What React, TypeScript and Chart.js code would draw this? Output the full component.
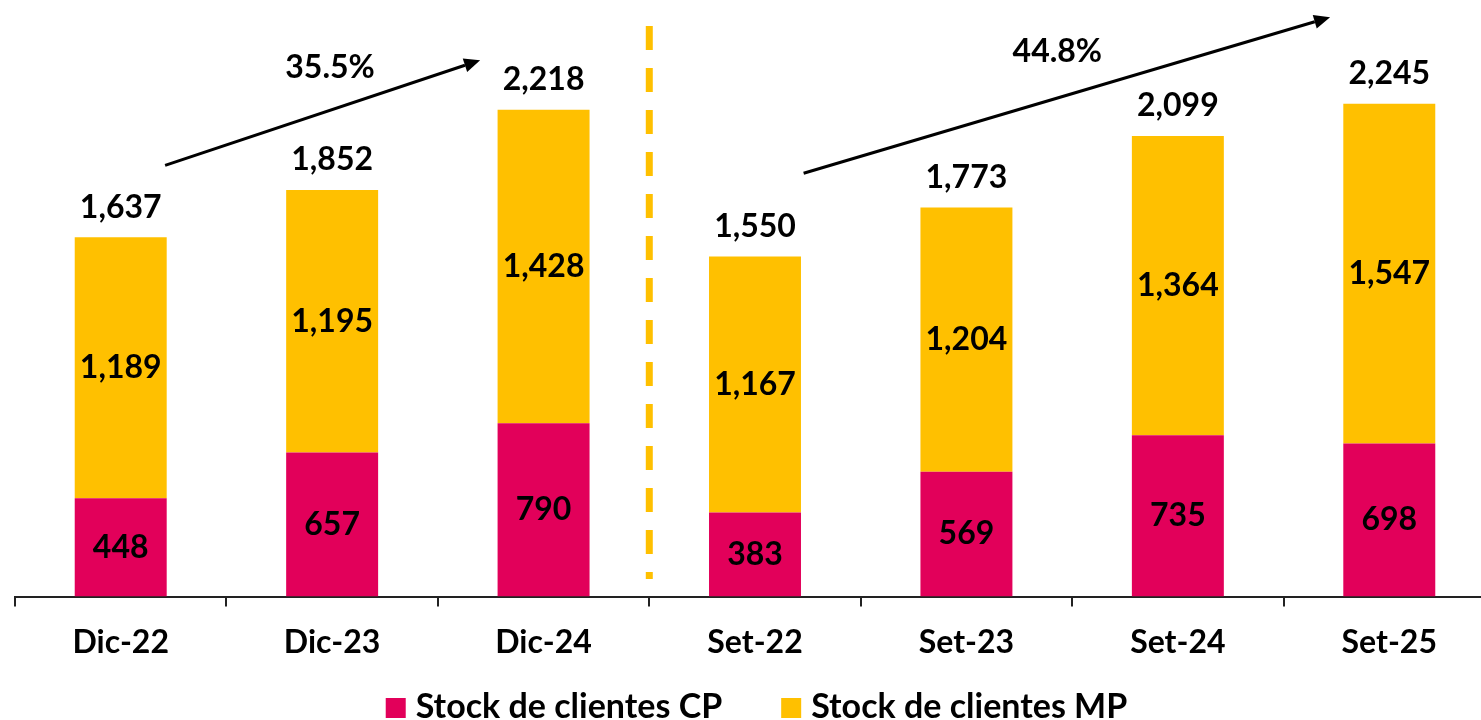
import React, { useEffect, useRef } from "react";
import { Chart, registerables } from "chart.js";

Chart.register(...registerables);

const categories = ["Dic-22", "Dic-23", "Dic-24", "Set-22", "Set-23", "Set-24", "Set-25"];
const stockCP = [448, 657, 790, 383, 569, 735, 698];
const stockMP = [1189, 1195, 1428, 1167, 1204, 1364, 1547];
const seriesNames = ["Stock de clientes CP", "Stock de clientes MP"];
const growthLabels = ["35.5%", "44.8%"];

const CP_COLOR = "#E2005A";
const MP_COLOR = "#FFC000";
const FONT_FAMILY = "Lato";
const LABEL_FONT = `bold 32px ${FONT_FAMILY}`;
const LEGEND_FONT = `bold 34px ${FONT_FAMILY}`;

// annotation anchors in data coordinates (category index, value)
const arrows = [
  { from: [0.21, 1965], to: [1.7, 2444], label: growthLabels[0], at: [0.99, 2408] },
  { from: [3.23, 1929], to: [5.72, 2640], label: growthLabels[1], at: [4.43, 2481] },
];

const fmt = (v: number) => v.toLocaleString("en-US");

const overlayPlugin = {
  id: "overlay",
  afterDatasetsDraw(chart: any) {
    const { ctx } = chart;
    const xs = chart.scales.x;
    const ys = chart.scales.y;
    ctx.save();
    ctx.font = LABEL_FONT;
    ctx.fillStyle = "#000";
    ctx.textAlign = "center";
    ctx.textBaseline = "middle";
    // segment labels
    chart.data.datasets.forEach((ds: any, di: number) => {
      const meta = chart.getDatasetMeta(di);
      meta.data.forEach((el: any, i: number) => {
        const y = (el.y + el.base) / 2;
        ctx.fillText(fmt(ds.data[i]), el.x, y);
      });
    });
    // totals
    const topMeta = chart.getDatasetMeta(1);
    topMeta.data.forEach((el: any, i: number) => {
      const total = stockCP[i] + stockMP[i];
      ctx.fillText(fmt(total), el.x, el.y - 30);
    });
    // dashed separator
    const sepX = (xs.getPixelForValue(2) + xs.getPixelForValue(3)) / 2;
    ctx.strokeStyle = MP_COLOR;
    ctx.lineWidth = 7;
    ctx.setLineDash([24, 18]);
    ctx.beginPath();
    ctx.moveTo(sepX, ys.getPixelForValue(2600));
    ctx.lineTo(sepX, ys.getPixelForValue(80));
    ctx.stroke();
    ctx.setLineDash([]);
    // arrows
    arrows.forEach((a) => {
      const x1 = xs.getPixelForValue(a.from[0]);
      const y1 = ys.getPixelForValue(a.from[1]);
      const x2 = xs.getPixelForValue(a.to[0]);
      const y2 = ys.getPixelForValue(a.to[1]);
      const ang = Math.atan2(y2 - y1, x2 - x1);
      const headLen = 16;
      const headW = 7;
      const bx = x2 - headLen * Math.cos(ang);
      const by = y2 - headLen * Math.sin(ang);
      ctx.strokeStyle = "#000";
      ctx.lineWidth = 3;
      ctx.beginPath();
      ctx.moveTo(x1, y1);
      ctx.lineTo(bx, by);
      ctx.stroke();
      ctx.fillStyle = "#000";
      ctx.beginPath();
      ctx.moveTo(x2, y2);
      ctx.lineTo(bx + headW * Math.sin(ang), by - headW * Math.cos(ang));
      ctx.lineTo(bx - headW * Math.sin(ang), by + headW * Math.cos(ang));
      ctx.closePath();
      ctx.fill();
      ctx.fillText(a.label, xs.getPixelForValue(a.at[0]), ys.getPixelForValue(a.at[1]));
    });
    ctx.restore();
  },
  afterDraw(chart: any) {
    // legend drawn centered under the axis
    const { ctx } = chart;
    ctx.save();
    ctx.font = LEGEND_FONT;
    ctx.textBaseline = "middle";
    ctx.textAlign = "left";
    const box = 20;
    const boxGap = 10;
    const itemGap = 59;
    const colors = [CP_COLOR, MP_COLOR];
    const widths = seriesNames.map((n) => box + boxGap + ctx.measureText(n).width);
    const total = widths.reduce((a, b) => a + b, 0) + itemGap * (widths.length - 1);
    const viewW = 1481;
    let x = (viewW - total) / 2 + 16;
    const cy = 707;
    seriesNames.forEach((n, i) => {
      ctx.fillStyle = colors[i];
      ctx.fillRect(x, cy - box / 2 + 1, box, box);
      ctx.fillStyle = "#000";
      ctx.fillText(n, x + box + boxGap, cy);
      x += widths[i] + itemGap;
    });
    ctx.restore();
  },
};

export default function App() {
  const ref = useRef<HTMLCanvasElement | null>(null);
  useEffect(() => {
    if (!ref.current) return;
    const chart = new Chart(ref.current, {
      type: "bar",
      data: {
        labels: categories,
        datasets: [
          { label: seriesNames[0], data: stockCP, backgroundColor: CP_COLOR, categoryPercentage: 1, barPercentage: 0.435 },
          { label: seriesNames[1], data: stockMP, backgroundColor: MP_COLOR, categoryPercentage: 1, barPercentage: 0.435 },
        ],
      },
      options: {
        responsive: false,
        animation: false,
        layout: { padding: { left: 15, right: 5, top: 4, bottom: 41 } },
        scales: {
          x: {
            stacked: true,
            grid: { display: true, drawOnChartArea: false, drawTicks: true, tickLength: 10, color: "#222", lineWidth: 2, offset: true },
            border: { display: true, color: "#222", width: 2 },
            ticks: { color: "#000", font: { family: FONT_FAMILY, size: 32, weight: "bold" }, padding: 17 },
          },
          y: { stacked: true, display: false, min: 0, max: 2700 },
        },
        plugins: {
          legend: { display: false },
          tooltip: { enabled: false },
        },
      },
      plugins: [overlayPlugin],
    });
    return () => chart.destroy();
  }, []);
  return (
    <div style={{ position: "absolute", left: 0, top: 0, width: 1481, height: 720, overflow: "hidden", background: "#fff" }}>
      <canvas ref={ref} width={1500} height={720} />
    </div>
  );
}
